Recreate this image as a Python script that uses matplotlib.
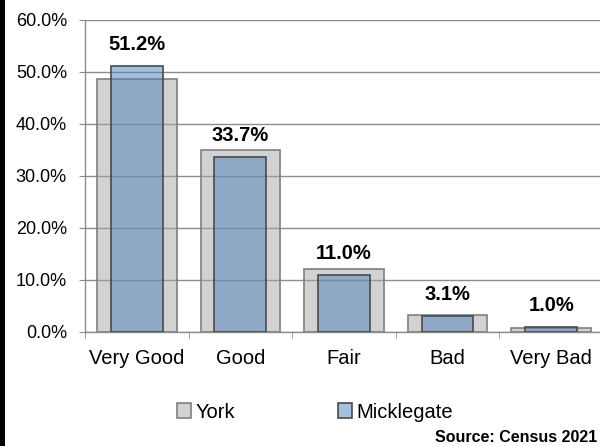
import matplotlib
matplotlib.use("Agg")
import matplotlib.pyplot as plt
from matplotlib.patches import Rectangle
import numpy as np

plt.rcParams["font.family"] = ["Liberation Sans", "DejaVu Sans"]

categories = ["Very Good", "Good", "Fair", "Bad", "Very Bad"]
york = [48.7, 35.0, 12.1, 3.3, 0.8]
micklegate = [51.2, 33.7, 11.0, 3.1, 1.0]
y_ticks = [0, 10, 20, 30, 40, 50, 60]

york_face = (0.65, 0.65, 0.65, 0.5)
mick_face = (0.31, 0.506, 0.741, 0.5)
grid_col = "#8c8c8c"

fig = plt.figure(figsize=(6.0, 4.46), dpi=100)
# black strip down the left edge
fig.patches.append(Rectangle((0, 0), 5 / 600, 1, transform=fig.transFigure,
                             facecolor="black", edgecolor="none"))
ax = fig.add_axes([85 / 600, 114 / 446, 518 / 600, 312 / 446])

x = np.arange(len(categories))
ax.bar(x, york, width=0.77, facecolor=york_face, edgecolor="#7f7f7f",
       linewidth=1.2, label="York", zorder=2)
ax.bar(x, micklegate, width=0.5, facecolor=mick_face, edgecolor="#4a4a4a",
       linewidth=1.2, label="Micklegate", zorder=3)

for xi, m_v in zip(x, micklegate):
    ax.annotate(f"{m_v:.1f}%", xy=(xi, m_v), xytext=(0, 8.5),
                textcoords="offset points", ha="center", va="bottom",
                fontsize=14.5, fontweight="bold")

ax.set_xlim(-0.5, len(categories) - 0.5)
ax.set_ylim(0, 60)
ax.set_yticks(y_ticks)
ax.set_yticklabels([f"{v:.1f}%" for v in y_ticks])
ax.set_xticks(x)
ax.set_xticklabels(categories)
ax.set_xticks(np.arange(len(categories) + 1) - 0.5, minor=True)
ax.tick_params(axis="x", which="major", length=0, pad=12, labelsize=14.5)
ax.tick_params(axis="x", which="minor", length=4, color=grid_col, direction="out")
ax.tick_params(axis="y", length=4, color=grid_col, pad=9, labelsize=13)
ax.yaxis.grid(True, color=grid_col, linewidth=1.0, zorder=0)
ax.set_axisbelow(True)
for side in ["top", "right"]:
    ax.spines[side].set_visible(False)
for side in ["left", "bottom"]:
    ax.spines[side].set_color(grid_col)
    ax.spines[side].set_linewidth(1.0)

fig.legend(loc="center", bbox_to_anchor=(0.525, 1 - 412 / 446), ncol=2,
           frameon=False, fontsize=14.5, handlelength=0.7, handleheight=0.7,
           handletextpad=0.2, columnspacing=5.1)
fig.text(597 / 600, 1 - 437 / 446, "Source: Census 2021", ha="right",
         va="center", fontsize=11.5, fontweight="bold")

fig.savefig("out.png", dpi=100)
